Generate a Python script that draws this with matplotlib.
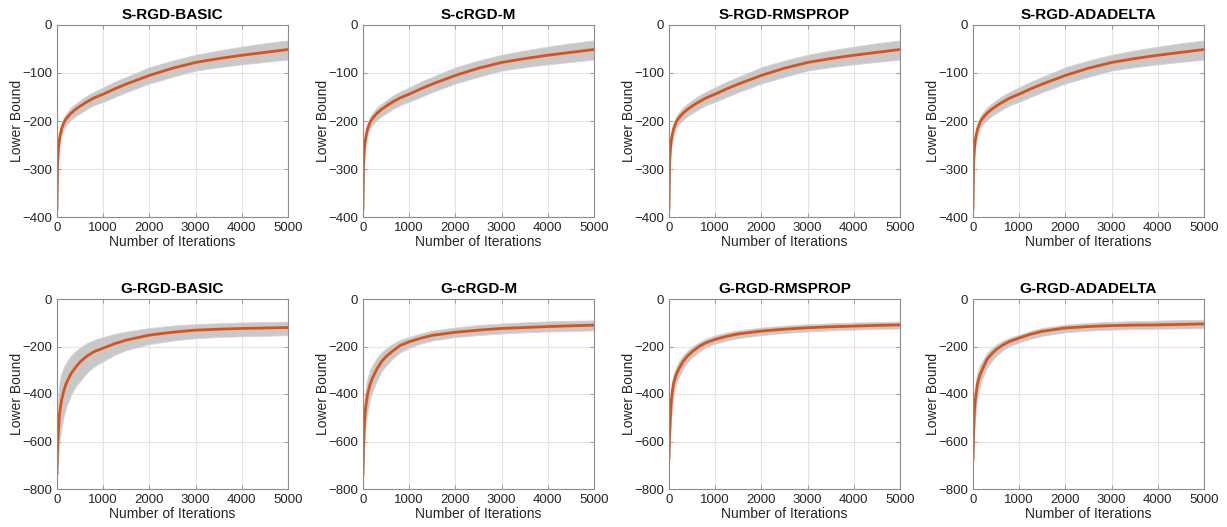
import numpy as np
import matplotlib
matplotlib.use("Agg")
from matplotlib import pyplot as plt

plt.rcParams['font.family'] = ['Liberation Sans', 'DejaVu Sans']

iters = [0, 10, 20, 30, 50, 75, 100, 150, 200, 300, 400, 500, 650, 800,
         1000, 1250, 1500, 2000, 2500, 3000, 3500, 4000, 4500, 5000]

top_titles = ['S-RGD-BASIC', 'S-cRGD-M', 'S-RGD-RMSPROP', 'S-RGD-ADADELTA']
bottom_titles = ['G-RGD-BASIC', 'G-cRGD-M', 'G-RGD-RMSPROP', 'G-RGD-ADADELTA']

# top row (all four panels look the same)
s_mean = [-382, -300, -275, -258, -240, -226, -216, -203, -195, -184, -176, -169,
          -160, -152, -144, -133, -123, -105, -90, -78, -70, -63, -57, -51]
s_upper = [-375, -290, -262, -246, -228, -214, -205, -192, -184, -172, -164, -157,
           -147, -139, -130, -118, -108, -88, -74, -62, -53, -45, -38, -32]
s_lower = [-388, -315, -290, -272, -254, -240, -230, -216, -208, -198, -190, -184,
           -175, -167, -160, -150, -140, -122, -108, -95, -88, -82, -77, -72]

# bottom row
g_basic_mean = [-735, -640, -590, -550, -490, -455, -425, -385, -355, -315, -288, -265,
                -240, -222, -207, -188, -173, -152, -140, -131, -127, -124, -122, -120]
g_basic_upper = [-700, -520, -450, -410, -360, -330, -310, -285, -268, -240, -220, -205,
                 -185, -172, -160, -147, -137, -122, -112, -106, -102, -99, -97, -95]
g_basic_lower = [-745, -720, -680, -650, -600, -570, -540, -490, -455, -405, -370, -345,
                 -310, -285, -262, -235, -215, -190, -175, -165, -160, -157, -155, -152]

g_crgdm_mean = [-741, -640, -570, -524, -470, -430, -400, -362, -335, -295, -264, -242,
                -218, -196, -180, -165, -153, -140, -131, -124, -120, -116, -113, -110]
g_crgdm_upper = [-700, -560, -490, -440, -390, -355, -330, -300, -280, -248, -225, -208,
                 -188, -172, -160, -145, -133, -120, -110, -103, -98, -94, -92, -90]
g_crgdm_lower = [-750, -700, -640, -600, -550, -505, -470, -425, -390, -345, -305, -280,
                 -250, -225, -205, -188, -175, -160, -152, -145, -140, -137, -135, -132]

g_rms_mean = [-671, -590, -540, -495, -430, -385, -355, -322, -299, -264, -240, -222,
              -200, -184, -170, -157, -147, -135, -127, -121, -117, -114, -111, -109]
g_rms_upper = [-640, -530, -470, -430, -375, -340, -315, -288, -268, -238, -217, -200,
               -182, -167, -153, -141, -132, -120, -112, -106, -102, -99, -97, -95]
g_rms_lower = [-680, -640, -600, -560, -490, -440, -400, -360, -335, -295, -265, -245,
               -222, -203, -188, -175, -165, -152, -143, -137, -132, -129, -126, -124]

g_ada_mean = [-676, -590, -520, -475, -424, -385, -354, -320, -298, -255, -232, -213,
              -193, -178, -164, -148, -136, -122, -116, -112, -110, -109, -107, -105]
g_ada_upper = [-640, -520, -450, -410, -365, -330, -305, -278, -262, -228, -208, -192,
               -175, -162, -150, -134, -122, -108, -100, -96, -93, -91, -89, -88]
g_ada_lower = [-685, -650, -590, -545, -490, -445, -410, -365, -335, -290, -262, -240,
               -215, -198, -183, -167, -155, -140, -133, -129, -126, -125, -124, -123]

bottom_data = [(g_basic_mean, g_basic_upper, g_basic_lower),
               (g_crgdm_mean, g_crgdm_upper, g_crgdm_lower),
               (g_rms_mean, g_rms_upper, g_rms_lower),
               (g_ada_mean, g_ada_upper, g_ada_lower)]

fig = plt.figure(figsize=(12.27, 5.27), dpi=100)

lefts = [57, 363, 669, 973]
W, H = 1227, 527


def style(ax, title, ymin, ystep):
    ax.set_xlim(0, 5000)
    ax.set_ylim(ymin, 0)
    ax.set_xticks(np.arange(0, 5001, 1000))
    ax.set_yticks(np.arange(ymin, 1, ystep))
    ax.grid(True, color='#e4e4e4', linewidth=0.8)
    ax.set_axisbelow(True)
    ax.tick_params(direction='in', length=3, width=0.6, labelsize=9.5,
                   colors='#8c8c8c', labelcolor='#262626', top=True, right=True,
                   labeltop=False, labelright=False)
    for s in ax.spines.values():
        s.set_color('#8c8c8c')
        s.set_linewidth(0.8)
    ax.set_title(title, fontsize=11, fontweight='bold', pad=4)
    ax.set_xlabel('Number of Iterations', fontsize=10, color='#262626', labelpad=1)
    ax.set_ylabel('Lower Bound', fontsize=10, color='#262626', labelpad=-1)


for i in range(4):
    # top row
    ax = fig.add_axes([lefts[i] / W, 1 - 217 / H, 231 / W, 192 / H])
    ax.fill_between(iters, s_lower, s_upper, color='#c8c8c8', linewidth=0.6,
                    edgecolor='#d4d4d4')
    ax.plot(iters, s_mean, color='#D95319', linewidth=2)
    style(ax, top_titles[i], -400, 100)

    # bottom row
    mean, upper, lower = bottom_data[i]
    ax = fig.add_axes([lefts[i] / W, 1 - 489 / H, 231 / W, 190 / H])
    ax.fill_between(iters, lower, upper, color='#c8c8c8', linewidth=0.6,
                    edgecolor='#d4d4d4')
    ax.plot(iters, mean, color='#D95319', linewidth=2)
    style(ax, bottom_titles[i], -800, 200)

fig.savefig('out.png', dpi=100)
